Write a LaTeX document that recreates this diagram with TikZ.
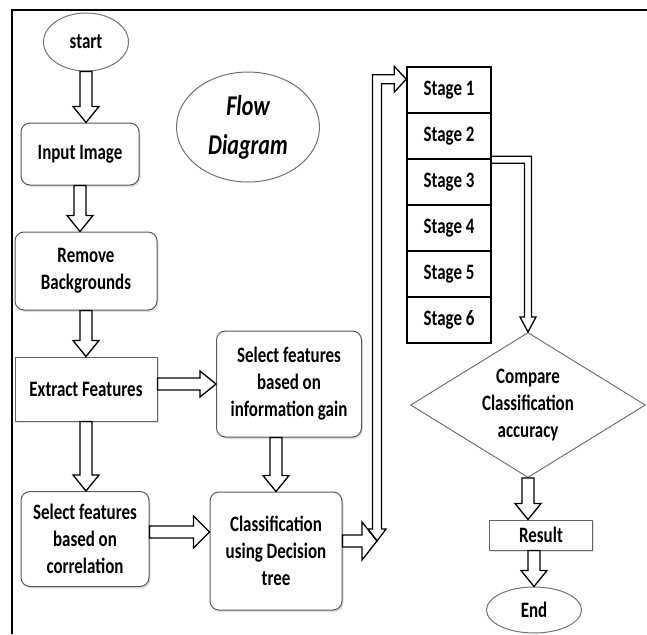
\documentclass[tikz,border=0pt]{standalone}
\usepackage{fontspec}
\setmainfont{Carlito}[FakeStretch=0.77]
\usepackage{tikz}
\usetikzlibrary{shapes,arrows,positioning,calc,shadows}
\tikzset{shaftwd/.store in=\shaftw, headwd/.store in=\headw, headlen/.store in=\headl,
  shaftwd=6, headwd=13, headlen=16}
\tikzstyle{block} = [draw=black!65, line width=1pt, rounded corners=9pt, fill=white, align=center,
  drop shadow={opacity=0.25,shadow xshift=1.5pt,shadow yshift=-2pt}]
\tikzstyle{rectbox} = [draw=black!60, line width=1pt, fill=white, align=center,
  drop shadow={opacity=0.25,shadow xshift=1.5pt,shadow yshift=-2pt}]
\tikzstyle{oval} = [draw=black!55, line width=1pt, ellipse, fill=white, align=center, inner sep=0pt]
\tikzstyle{stagebox} = [draw, line width=1.6pt, minimum width=84, minimum height=46, inner sep=0pt]
\tikzstyle{fat} = [draw, line width=1.3pt, line join=miter]
\tikzstyle{fatdown} = [fat, to path={($(\tikztostart)+(-\shaftw,0)$) -- ($(\tikztotarget)+(-\shaftw,-\headl)$)
  -- ($(\tikztotarget)+(-\headw,-\headl)$) -- (\tikztotarget) -- ($(\tikztotarget)+(\headw,-\headl)$)
  -- ($(\tikztotarget)+(\shaftw,-\headl)$) -- ($(\tikztostart)+(\shaftw,0)$) -- cycle}]
\tikzstyle{fatright} = [fat, to path={($(\tikztostart)+(0,-\shaftw)$) -- ($(\tikztotarget)+(-\headl,-\shaftw)$)
  -- ($(\tikztotarget)+(-\headl,-\headw)$) -- (\tikztotarget) -- ($(\tikztotarget)+(-\headl,\headw)$)
  -- ($(\tikztotarget)+(-\headl,\shaftw)$) -- ($(\tikztostart)+(0,\shaftw)$) -- cycle}]

\begin{document}
\begin{tikzpicture}[x=1pt,y=-1pt,every node/.style={font=\fontsize{22}{27}\selectfont\bfseries}]
		%\draw[help lines,step=50] (0,0) grid (647,634); %Hilfsgitter
		\useasboundingbox (0,0) rectangle (647,634);
		\draw[line width=2pt] (12,634) -- (12,10) -- (647,10); % frame

		\node[oval, minimum width=85, minimum height=58] (start) at (86,42) {start};
		\node[oval, minimum width=143, minimum height=110, font=\fontsize{28.6}{39}\selectfont\bfseries\itshape] (flow) at (248,127) {Flow\\Diagram};
		\node[block, minimum width=118, minimum height=62] (input) at (80,154) {Input Image};
		\node[block, minimum width=142, minimum height=78] (remove) at (86,271) {Remove\\Backgrounds};
		\node[rectbox, minimum width=142, minimum height=64] (extract) at (86,389) {Extract Features};
		\node[block, minimum width=145, minimum height=106] (selig) at (289,384) {Select features\\based on\\information gain};
		\node[block, minimum width=128, minimum height=95] (selcor) at (85,539) {Select features\\based on\\correlation};
		\node[block, minimum width=132, minimum height=118] (cls) at (276,551) {Classification\\using Decision\\tree};

		\foreach \i in {1,...,6}
			\node[stagebox] (s\i) at (449,44+46*\i) {Stage \i}; % stages

		\node[draw=black!55, line width=1pt, diamond, aspect=1.6, inner sep=0pt, align=center,
			minimum width=235, minimum height=145] (cmp) at (528,405) {Compare\\Classification\\accuracy};
		\node[rectbox, minimum width=103, minimum height=30, inner sep=0pt] (res) at (541,535) {Result};
		\node[oval, minimum width=95, minimum height=46] (fin) at (534,610) {End};

		\coordinate (bus) at (377,541); % foot of the long riser
		\coordinate (s1in) at ($(s1.north west)+(0,13)$);

		\draw[fatdown] (start.south) to (start.south |- input.north);
		\draw[fatdown] (input.south) to (input.south |- remove.north);
		\draw[fatdown] (remove.south) to (remove.south |- extract.north);
		\draw[fatdown] (extract.south) to (extract.south |- selcor.north);
		\draw[fatright] ($(extract.east)+(0,-5)$) to ($(extract.east -| selig.west)+(0,-5)$);
		\draw[fatdown] (cls.north |- selig.south) to (cls.north);
		\draw[fatright, headwd=16] ($(selcor.east)+(0,-7)$) to ($(selcor.east -| cls.west)+(0,-7)$);
		\draw[fatright, headwd=19, headlen=15] (cls.east |- bus) to (bus);
		\draw[fatdown] (cmp.south) to (cmp.south |- res.north);
		\draw[fatdown] (fin.north |- res.south) to (fin.north);

		% riser from the classifier up to stage 1
		\draw[fat] (bus) -- ++(9,-12) -- ++(-4.5,0) |- ($(s1in)+(-12,4.5)$) -- ++(0,8.5) -- (s1in)
			-- ++(-12,-13) -- ++(0,8.5) -| ($(bus)+(-4.5,-12)$) -- ++(-4.5,0) -- cycle;
		% stages down to the comparison
		\draw[fat] ($(s2.south east)+(0,-3.5)$) -| ($(cmp.north)+(3.5,-15)$) -- ++(4.5,0) -- (cmp.north)
			-- ++(-8,-15) -- ++(4.5,0) |- ($(s2.south east)+(0,3.5)$);
\end{tikzpicture}
\end{document}
